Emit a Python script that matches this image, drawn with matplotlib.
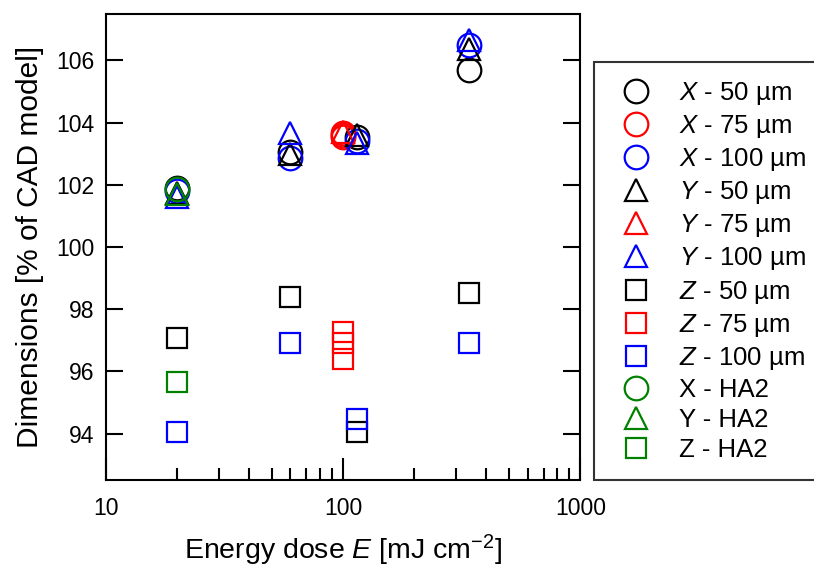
import matplotlib
matplotlib.use("Agg")
import matplotlib.pyplot as plt
from matplotlib.ticker import LogLocator, NullFormatter, FixedLocator

plt.rcParams['font.family'] = ['Liberation Sans', 'DejaVu Sans']
plt.rcParams['mathtext.fontset'] = 'custom'
plt.rcParams['mathtext.rm'] = 'Liberation Sans'
plt.rcParams['mathtext.it'] = 'Liberation Sans:italic'

# ---- data ----
dose_50 = [20, 60, 115, 340]
dose_75 = [100, 100, 100]
dose_100 = [20, 60, 115, 340]
dose_ha2 = [20]

x_50 = [101.9, 103.05, 103.55, 105.7]
x_75 = [103.55, 103.6, 103.65]
x_100 = [101.8, 102.85, 103.4, 106.5]
y_50 = [101.75, 103.0, 103.6, 106.35]
y_75 = [103.7]
y_100 = [101.6, 103.65, 103.35, 106.65]
z_50 = [97.07, 98.39, 94.05, 98.51]
z_75 = [97.27, 96.9, 96.39]
z_100 = [94.04, 96.9, 94.48, 96.9]
x_ha2 = [101.85]
y_ha2 = [101.7]
z_ha2 = [95.65]

series = [
    (dose_50, x_50, 'o', 'black', r'$X$ - 50 µm'),
    (dose_75, x_75, 'o', 'red', r'$X$ - 75 µm'),
    (dose_100, x_100, 'o', 'blue', r'$X$ - 100 µm'),
    (dose_50, y_50, '^', 'black', r'$Y$ - 50 µm'),
    (dose_75[:1], y_75, '^', 'red', r'$Y$ - 75 µm'),
    (dose_100, y_100, '^', 'blue', r'$Y$ - 100 µm'),
    (dose_50, z_50, 's', 'black', r'$Z$ - 50 µm'),
    (dose_75, z_75, 's', 'red', r'$Z$ - 75 µm'),
    (dose_100, z_100, 's', 'blue', r'$Z$ - 100 µm'),
    (dose_ha2, x_ha2, 'o', 'green', 'X - HA2'),
    (dose_ha2, y_ha2, '^', 'green', 'Y - HA2'),
    (dose_ha2, z_ha2, 's', 'green', 'Z - HA2'),
]

fig = plt.figure(figsize=(8.14, 5.68), dpi=100)
ax = fig.add_axes([0.1299, 0.1544, 0.5830, 0.8215])

sizes = {'o': 17, '^': 16, 's': 14.5}
for xs, ys, m, c, lab in series:
    ax.plot(xs, ys, linestyle='none', marker=m, markersize=sizes[m],
            markerfacecolor='none', markeredgecolor=c, markeredgewidth=1.6,
            label=lab)

ax.set_xscale('log')
ax.set_xlim(10, 1000)
ax.set_ylim(92.5, 107.5)
ax.yaxis.set_major_locator(FixedLocator([94, 96, 98, 100, 102, 104, 106]))
ax.xaxis.set_major_locator(FixedLocator([10, 100, 1000]))
ax.set_xticklabels(['10', '100', '1000'])
ax.xaxis.set_minor_locator(LogLocator(base=10, subs=range(2, 10)))
ax.xaxis.set_minor_formatter(NullFormatter())

for s in ax.spines.values():
    s.set_linewidth(1.5)
ax.tick_params(axis='both', which='major', direction='in', width=1.5,
               labelsize=16.5, top=False, right=True)
ax.tick_params(axis='x', which='minor', direction='in', length=8.5, width=1.5, top=False)
ax.tick_params(axis='x', which='major', length=16, pad=12)
ax.tick_params(axis='y', which='major', length=12.5, pad=8)

ax.set_xlabel(r'Energy dose $E$ [mJ cm$^{\mathregular{-2}}$]', fontsize=20.5, labelpad=9)
ax.set_ylabel('Dimensions [% of CAD model]', fontsize=21.5, labelpad=9)

leg = fig.legend(loc='upper left', bbox_to_anchor=(0.7297, 0.0, 0.35, 0.8915),
                 mode='expand', fontsize=18.5, frameon=True, fancybox=False,
                 edgecolor='black', borderpad=0.7, labelspacing=0.24,
                 handlelength=1.9, handletextpad=0.71, borderaxespad=0)
leg.get_frame().set_linewidth(1.5)

fig.savefig('out.png', dpi=100)
